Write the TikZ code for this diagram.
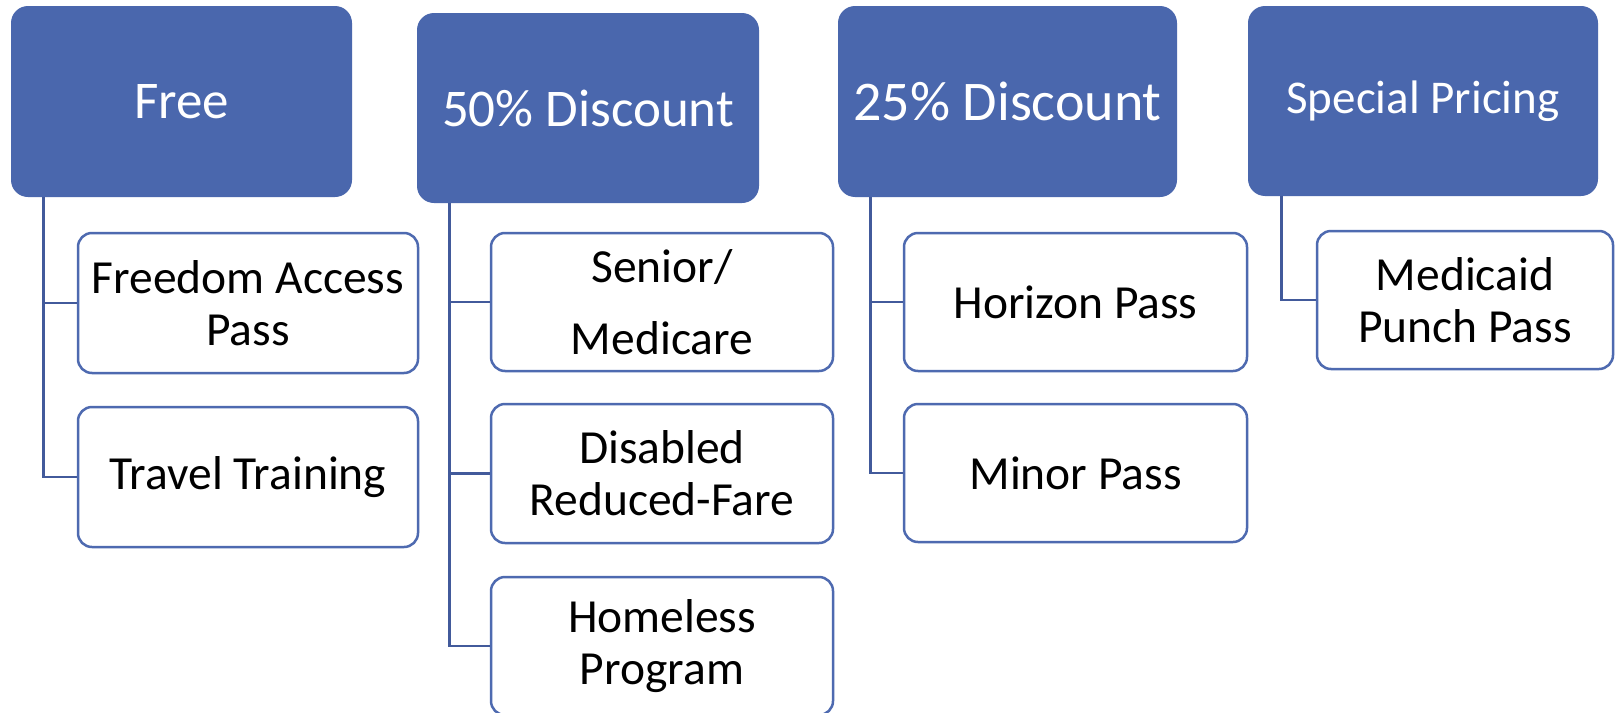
\documentclass[tikz,border=0pt]{standalone}
\usepackage{fontspec}
\setmainfont{Carlito}
\usetikzlibrary{calc}
\definecolor{headblue}{RGB}{74,103,173}
\definecolor{edgeblue}{RGB}{78,106,176}
\definecolor{linkblue}{RGB}{66,90,155}
\tikzset{
  headbox/.style={fill=headblue, rounded corners=17pt, text=white, align=center,
    inner sep=0pt},
  itembox/.style={draw=edgeblue, line width=2.5pt, fill=white, rounded corners=14pt,
    text=black, align=center, inner sep=0pt,
    font=\fontsize{47.5}{52}\selectfont},
  link/.style={draw=linkblue, line width=2.8pt}
}
\begin{document}
\begin{tikzpicture}[x=1pt,y=-1pt]
\useasboundingbox (0,0) rectangle (1616,712);
\clip (0,0) rectangle (1616,712);
\fill[white] (0,0) rectangle (1616,712);

% category headers
\node[headbox, minimum width=341pt, minimum height=191pt,
  font=\fontsize{53}{60}\selectfont] (free) at (181.5,101.5) {Free};
\node[headbox, minimum width=342pt, minimum height=190pt,
  font=\fontsize{53}{60}\selectfont] (half) at (588,108) {50\% Discount};
\node[headbox, minimum width=339pt, minimum height=191pt,
  font=\fontsize{56}{64}\selectfont] (quarter) at (1007.5,101.5) {25\% Discount};
\node[headbox, minimum width=350pt, minimum height=190pt,
  font=\fontsize{47}{54}\selectfont] (special) at (1423,101) {Special Pricing};

% programs under each category
\node[itembox, minimum width=340pt, minimum height=140pt] (fap) at (248,303) {Freedom Access\\Pass};
\node[itembox, minimum width=340pt, minimum height=140pt] (tt) at (248,477) {Travel Training};

\node[itembox, minimum width=342pt, minimum height=138pt] (sen) at (662,302) {Senior/\\[20pt]Medicare};
\node[itembox, minimum width=342pt, minimum height=139pt] (dis) at (662,473.5) {Disabled\\Reduced-Fare};
\node[itembox, minimum width=342pt, minimum height=138pt] (hom) at (662,646) {Homeless\\Program};

\node[itembox, minimum width=343pt, minimum height=138pt] (hor) at (1075.5,302) {Horizon Pass};
\node[itembox, minimum width=343pt, minimum height=138pt] (min) at (1075.5,473) {Minor Pass};

\node[itembox, minimum width=296pt, minimum height=138pt] (med) at (1465,300) {Medicaid\\Punch Pass};

% tree connectors
\draw[link] ($(free.south west)+(33,0)$) |- (fap.west);
\draw[link] ($(free.south west)+(33,0)$) |- (tt.west);
\draw[link] ($(half.south west)+(33,0)$) |- (sen.west);
\draw[link] ($(half.south west)+(33,0)$) |- (dis.west);
\draw[link] ($(half.south west)+(33,0)$) |- (hom.west);
\draw[link] ($(quarter.south west)+(33,0)$) |- (hor.west);
\draw[link] ($(quarter.south west)+(33,0)$) |- (min.west);
\draw[link] ($(special.south west)+(34,0)$) |- (med.west);
\end{tikzpicture}
\end{document}
